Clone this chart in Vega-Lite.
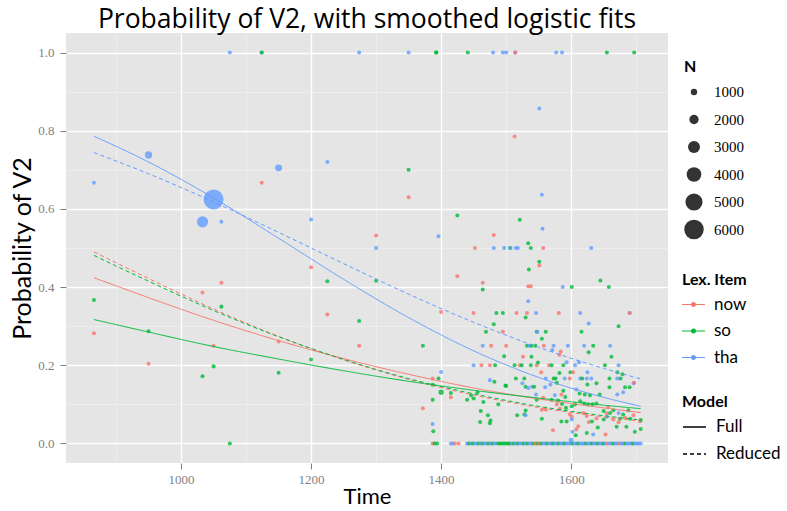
{
"$schema":"https://vega.github.io/schema/vega-lite/v6.json",
"width":602,"height":430,"autosize":"none",
"padding":{"left":66,"top":33,"right":119,"bottom":48},
"background":"white",
"config":{"view":{"fill":"#E5E5E5","stroke":null}},
"title":{"text":"Probability of V2, with smoothed logistic fits","font":"Open Sans","fontSize":26.5,"fontWeight":"normal","color":"black","anchor":"middle","offset":0},
"datasets":{
"pts":[
{"Time":866,"Prob":0.667,"Item":"tha","N":40},{"Time":866,"Prob":0.367,"Item":"so","N":40},{"Time":866,"Prob":0.282,"Item":"now","N":40},
{"Time":950,"Prob":0.738,"Item":"tha","N":1300},{"Time":950,"Prob":0.287,"Item":"so","N":40},{"Time":950,"Prob":0.204,"Item":"now","N":40},
{"Time":1033,"Prob":0.567,"Item":"tha","N":2700},{"Time":1033,"Prob":0.386,"Item":"now","N":40},{"Time":1033,"Prob":0.172,"Item":"so","N":40},
{"Time":1050,"Prob":0.624,"Item":"tha","N":6200},{"Time":1050,"Prob":0.25,"Item":"now","N":40},{"Time":1050,"Prob":0.197,"Item":"so","N":150},
{"Time":1062,"Prob":0.567,"Item":"tha","N":40},{"Time":1062,"Prob":0.411,"Item":"now","N":40},{"Time":1062,"Prob":0.35,"Item":"so","N":40},
{"Time":1075,"Prob":1.0,"Item":"tha","N":40},{"Time":1075,"Prob":0.0,"Item":"so","N":40},
{"Time":1124,"Prob":1.0,"Item":"tha","N":40},{"Time":1124,"Prob":1.0,"Item":"so","N":40},{"Time":1124,"Prob":0.667,"Item":"now","N":40},
{"Time":1150,"Prob":0.705,"Item":"tha","N":1200},{"Time":1150,"Prob":0.261,"Item":"now","N":40},{"Time":1150,"Prob":0.181,"Item":"so","N":40},
{"Time":1200,"Prob":0.573,"Item":"tha","N":40},{"Time":1200,"Prob":0.451,"Item":"now","N":40},{"Time":1200,"Prob":0.215,"Item":"so","N":40},
{"Time":1225,"Prob":0.72,"Item":"tha","N":40},{"Time":1225,"Prob":0.415,"Item":"so","N":40},{"Time":1225,"Prob":0.33,"Item":"now","N":40},
{"Time":1274,"Prob":1.0,"Item":"tha","N":40},{"Time":1274,"Prob":0.313,"Item":"so","N":40},{"Time":1274,"Prob":0.25,"Item":"now","N":40},
{"Time":1300,"Prob":0.532,"Item":"now","N":40},{"Time":1300,"Prob":0.5,"Item":"tha","N":40},{"Time":1300,"Prob":0.416,"Item":"so","N":40},
{"Time":1350,"Prob":1.0,"Item":"tha","N":40},{"Time":1350,"Prob":0.7,"Item":"so","N":40},{"Time":1350,"Prob":0.63,"Item":"now","N":40},
{"Time":1372,"Prob":0.25,"Item":"so","N":40},{"Time":1372,"Prob":0.09,"Item":"now","N":40},
{"Time":1387,"Prob":0.166,"Item":"now","N":40},{"Time":1387,"Prob":0.15,"Item":"so","N":40},{"Time":1387,"Prob":0.112,"Item":"so","N":40},{"Time":1387,"Prob":0.05,"Item":"tha","N":40},{"Time":1388,"Prob":0.031,"Item":"so","N":40},
{"Time":1392,"Prob":1.0,"Item":"so","N":40},{"Time":1393,"Prob":1.0,"Item":"so","N":40},
{"Time":1396,"Prob":0.53,"Item":"tha","N":40},{"Time":1396,"Prob":0.166,"Item":"so","N":40},
{"Time":1400,"Prob":0.336,"Item":"now","N":40},{"Time":1400,"Prob":0.183,"Item":"tha","N":40},{"Time":1400,"Prob":0.131,"Item":"so","N":600},
{"Time":1415,"Prob":0.129,"Item":"so","N":40},{"Time":1415,"Prob":0.118,"Item":"now","N":40},
{"Time":1425,"Prob":0.583,"Item":"so","N":40},{"Time":1425,"Prob":0.428,"Item":"now","N":40},
{"Time":1440,"Prob":0.112,"Item":"so","N":40},{"Time":1441,"Prob":1.0,"Item":"so","N":40},{"Time":1446,"Prob":0.123,"Item":"so","N":40},
{"Time":1450,"Prob":0.115,"Item":"so","N":40},{"Time":1450,"Prob":0.334,"Item":"now","N":40},{"Time":1450,"Prob":0.2,"Item":"tha","N":40},
{"Time":1452,"Prob":0.5,"Item":"now","N":40},{"Time":1456,"Prob":0.131,"Item":"so","N":40},{"Time":1460,"Prob":0.055,"Item":"so","N":40},
{"Time":1461,"Prob":0.083,"Item":"so","N":40},{"Time":1462,"Prob":0.2,"Item":"now","N":40},{"Time":1464,"Prob":0.411,"Item":"now","N":40},
{"Time":1464,"Prob":0.394,"Item":"so","N":40},{"Time":1464,"Prob":0.25,"Item":"tha","N":40},{"Time":1465,"Prob":0.106,"Item":"so","N":40},
{"Time":1469,"Prob":0.286,"Item":"so","N":40},{"Time":1472,"Prob":0.072,"Item":"so","N":40},{"Time":1475,"Prob":0.2,"Item":"now","N":40},
{"Time":1475,"Prob":0.162,"Item":"tha","N":40},{"Time":1475,"Prob":0.052,"Item":"so","N":40},{"Time":1476,"Prob":0.059,"Item":"so","N":40},
{"Time":1477,"Prob":0.25,"Item":"now","N":40},{"Time":1480,"Prob":1.0,"Item":"tha","N":40},{"Time":1481,"Prob":0.533,"Item":"now","N":40},
{"Time":1481,"Prob":0.5,"Item":"tha","N":40},{"Time":1481,"Prob":0.305,"Item":"so","N":40},{"Time":1482,"Prob":0.158,"Item":"so","N":40},
{"Time":1483,"Prob":0.2,"Item":"so","N":40},{"Time":1485,"Prob":0.334,"Item":"so","N":40},{"Time":1488,"Prob":0.1,"Item":"so","N":40},
{"Time":1495,"Prob":1.0,"Item":"tha","N":40},{"Time":1495,"Prob":0.334,"Item":"so","N":40},{"Time":1495,"Prob":0.286,"Item":"now","N":40},
{"Time":1497,"Prob":0.5,"Item":"tha","N":40},{"Time":1497,"Prob":0.223,"Item":"so","N":40},{"Time":1499,"Prob":0.148,"Item":"so","N":40},
{"Time":1500,"Prob":1.0,"Item":"tha","N":40},{"Time":1500,"Prob":0.25,"Item":"now","N":40},{"Time":1500,"Prob":0.147,"Item":"so","N":40},
{"Time":1506,"Prob":0.5,"Item":"so","N":40},{"Time":1507,"Prob":0.5,"Item":"tha","N":40},{"Time":1513,"Prob":0.785,"Item":"now","N":40},
{"Time":1513,"Prob":0.2,"Item":"so","N":40},{"Time":1514,"Prob":1.0,"Item":"tha","N":40},{"Time":1514,"Prob":1.0,"Item":"now","N":40},
{"Time":1515,"Prob":0.5,"Item":"tha","N":40},{"Time":1515,"Prob":0.166,"Item":"so","N":40},{"Time":1516,"Prob":0.334,"Item":"now","N":40},
{"Time":1517,"Prob":0.072,"Item":"so","N":40},{"Time":1518,"Prob":0.5,"Item":"tha","N":40},{"Time":1521,"Prob":0.572,"Item":"so","N":40},
{"Time":1521,"Prob":0.2,"Item":"now","N":40},{"Time":1524,"Prob":0.2,"Item":"so","N":40},{"Time":1525,"Prob":0.154,"Item":"tha","N":40},
{"Time":1526,"Prob":0.222,"Item":"now","N":40},{"Time":1528,"Prob":0.166,"Item":"so","N":40},{"Time":1528,"Prob":0.074,"Item":"so","N":40},
{"Time":1530,"Prob":0.322,"Item":"so","N":40},{"Time":1530,"Prob":0.145,"Item":"so","N":40},{"Time":1530,"Prob":0.084,"Item":"so","N":40},
{"Time":1530,"Prob":0.072,"Item":"tha","N":40},
{"Time":1532,"Prob":0.334,"Item":"now","N":40},{"Time":1532,"Prob":0.25,"Item":"so","N":40},{"Time":1534,"Prob":0.512,"Item":"so","N":40},
{"Time":1534,"Prob":0.402,"Item":"now","N":40},{"Time":1534,"Prob":0.364,"Item":"tha","N":40},{"Time":1534,"Prob":0.142,"Item":"tha","N":40},
{"Time":1535,"Prob":0.445,"Item":"so","N":40},{"Time":1536,"Prob":0.25,"Item":"tha","N":40},{"Time":1538,"Prob":0.5,"Item":"so","N":40},
{"Time":1538,"Prob":0.402,"Item":"now","N":40},{"Time":1538,"Prob":0.2,"Item":"so","N":40},{"Time":1539,"Prob":0.25,"Item":"so","N":40},
{"Time":1539,"Prob":0.222,"Item":"so","N":40},{"Time":1540,"Prob":0.145,"Item":"tha","N":40},{"Time":1543,"Prob":0.145,"Item":"so","N":40},
{"Time":1545,"Prob":0.25,"Item":"so","N":40},{"Time":1546,"Prob":0.334,"Item":"tha","N":40},{"Time":1546,"Prob":0.125,"Item":"tha","N":40},
{"Time":1547,"Prob":0.286,"Item":"so","N":40},{"Time":1548,"Prob":0.286,"Item":"tha","N":40},{"Time":1547,"Prob":0.2,"Item":"now","N":40},
{"Time":1547,"Prob":0.112,"Item":"so","N":40},{"Time":1549,"Prob":0.207,"Item":"so","N":40},{"Time":1551,"Prob":0.857,"Item":"tha","N":40},
{"Time":1551,"Prob":0.465,"Item":"so","N":40},{"Time":1551,"Prob":0.455,"Item":"now","N":40},{"Time":1554,"Prob":0.182,"Item":"now","N":40},
{"Time":1555,"Prob":0.636,"Item":"tha","N":40},{"Time":1555,"Prob":0.268,"Item":"so","N":40},{"Time":1555,"Prob":0.063,"Item":"so","N":40},
{"Time":1555,"Prob":0.086,"Item":"now","N":40},{"Time":1556,"Prob":0.549,"Item":"tha","N":40},{"Time":1557,"Prob":0.5,"Item":"now","N":40},
{"Time":1557,"Prob":0.117,"Item":"now","N":40},{"Time":1558,"Prob":0.25,"Item":"now","N":40},{"Time":1560,"Prob":0.144,"Item":"tha","N":40},
{"Time":1561,"Prob":0.286,"Item":"so","N":40},{"Time":1561,"Prob":0.166,"Item":"tha","N":40},{"Time":1561,"Prob":0.086,"Item":"now","N":40},
{"Time":1566,"Prob":0.2,"Item":"now","N":40},{"Time":1568,"Prob":0.151,"Item":"tha","N":40},{"Time":1570,"Prob":0.2,"Item":"so","N":40},
{"Time":1570,"Prob":0.112,"Item":"so","N":40},{"Time":1571,"Prob":0.239,"Item":"tha","N":40},{"Time":1572,"Prob":0.034,"Item":"now","N":40},
{"Time":1573,"Prob":0.25,"Item":"tha","N":40},{"Time":1573,"Prob":0.166,"Item":"so","N":40},{"Time":1575,"Prob":0.123,"Item":"tha","N":40},
{"Time":1576,"Prob":0.166,"Item":"so","N":40},{"Time":1577,"Prob":1.0,"Item":"tha","N":40},{"Time":1578,"Prob":0.155,"Item":"so","N":40},
{"Time":1578,"Prob":0.1,"Item":"now","N":40},{"Time":1580,"Prob":0.11,"Item":"so","N":40},{"Time":1581,"Prob":0.334,"Item":"now","N":40},
{"Time":1582,"Prob":0.227,"Item":"now","N":40},{"Time":1582,"Prob":0.18,"Item":"so","N":40},{"Time":1583,"Prob":0.089,"Item":"now","N":40},
{"Time":1584,"Prob":0.235,"Item":"now","N":40},{"Time":1585,"Prob":0.125,"Item":"now","N":40},{"Time":1585,"Prob":0.056,"Item":"so","N":40},
{"Time":1586,"Prob":1.0,"Item":"tha","N":40},{"Time":1586,"Prob":0.101,"Item":"so","N":40},{"Time":1587,"Prob":0.4,"Item":"tha","N":40},
{"Time":1588,"Prob":0.2,"Item":"so","N":40},{"Time":1588,"Prob":0.135,"Item":"so","N":40},{"Time":1590,"Prob":0.166,"Item":"tha","N":40},
{"Time":1591,"Prob":0.119,"Item":"so","N":40},{"Time":1592,"Prob":0.091,"Item":"so","N":40},{"Time":1593,"Prob":0.208,"Item":"tha","N":40},
{"Time":1593,"Prob":0.056,"Item":"so","N":40},{"Time":1595,"Prob":0.25,"Item":"tha","N":40},{"Time":1598,"Prob":0.166,"Item":"now","N":40},
{"Time":1598,"Prob":0.074,"Item":"now","N":40},{"Time":1599,"Prob":0.182,"Item":"so","N":40},{"Time":1601,"Prob":0.4,"Item":"so","N":40},
{"Time":1601,"Prob":0.095,"Item":"so","N":40},{"Time":1601,"Prob":0.068,"Item":"now","N":40},{"Time":1601,"Prob":0.061,"Item":"tha","N":40},
{"Time":1602,"Prob":0.03,"Item":"tha","N":40},{"Time":1603,"Prob":0.182,"Item":"now","N":40},{"Time":1606,"Prob":0.2,"Item":"tha","N":40},
{"Time":1606,"Prob":0.1,"Item":"so","N":40},{"Time":1607,"Prob":0.021,"Item":"so","N":40},{"Time":1608,"Prob":0.036,"Item":"now","N":40},
{"Time":1608,"Prob":0.138,"Item":"tha","N":40},{"Time":1611,"Prob":0.044,"Item":"now","N":40},{"Time":1612,"Prob":0.208,"Item":"tha","N":40},
{"Time":1613,"Prob":0.128,"Item":"so","N":40},{"Time":1614,"Prob":0.334,"Item":"tha","N":40},{"Time":1614,"Prob":0.166,"Item":"tha","N":40},
{"Time":1614,"Prob":0.108,"Item":"so","N":40},{"Time":1616,"Prob":0.286,"Item":"so","N":40},{"Time":1617,"Prob":0.166,"Item":"so","N":40},
{"Time":1619,"Prob":0.078,"Item":"now","N":40},{"Time":1620,"Prob":0.25,"Item":"tha","N":40},{"Time":1620,"Prob":0.102,"Item":"so","N":40},
{"Time":1621,"Prob":0.125,"Item":"so","N":40},{"Time":1624,"Prob":0.166,"Item":"tha","N":40},{"Time":1624,"Prob":0.07,"Item":"now","N":40},
{"Time":1624,"Prob":0.027,"Item":"so","N":40},{"Time":1625,"Prob":0.182,"Item":"tha","N":40},{"Time":1625,"Prob":0.151,"Item":"so","N":40},
{"Time":1626,"Prob":0.1,"Item":"so","N":40},{"Time":1627,"Prob":0.307,"Item":"tha","N":40},{"Time":1627,"Prob":0.233,"Item":"so","N":40},
{"Time":1627,"Prob":0.055,"Item":"now","N":40},{"Time":1629,"Prob":0.123,"Item":"so","N":40},{"Time":1631,"Prob":0.5,"Item":"tha","N":40},
{"Time":1631,"Prob":0.166,"Item":"tha","N":40},{"Time":1632,"Prob":0.056,"Item":"so","N":40},{"Time":1633,"Prob":0.1,"Item":"so","N":40},
{"Time":1634,"Prob":0.25,"Item":"so","N":40},{"Time":1634,"Prob":0.023,"Item":"tha","N":40},{"Time":1639,"Prob":0.154,"Item":"so","N":40},
{"Time":1639,"Prob":0.102,"Item":"so","N":40},{"Time":1639,"Prob":0.064,"Item":"now","N":40},{"Time":1641,"Prob":0.041,"Item":"so","N":40},
{"Time":1644,"Prob":0.125,"Item":"so","N":40},{"Time":1645,"Prob":0.417,"Item":"so","N":40},{"Time":1650,"Prob":0.083,"Item":"so","N":40},
{"Time":1650,"Prob":0.061,"Item":"so","N":40},{"Time":1652,"Prob":0.2,"Item":"so","N":40},{"Time":1653,"Prob":0.023,"Item":"now","N":40},
{"Time":1655,"Prob":1.0,"Item":"so","N":40},{"Time":1655,"Prob":0.077,"Item":"now","N":40},{"Time":1655,"Prob":0.068,"Item":"tha","N":40},
{"Time":1657,"Prob":0.094,"Item":"now","N":40},{"Time":1658,"Prob":0.4,"Item":"so","N":40},{"Time":1659,"Prob":0.166,"Item":"so","N":40},
{"Time":1659,"Prob":0.144,"Item":"so","N":40},{"Time":1660,"Prob":0.25,"Item":"tha","N":40},{"Time":1660,"Prob":0.078,"Item":"so","N":40},
{"Time":1662,"Prob":0.222,"Item":"so","N":40},{"Time":1665,"Prob":0.085,"Item":"so","N":40},{"Time":1665,"Prob":0.061,"Item":"now","N":40},
{"Time":1670,"Prob":0.043,"Item":"so","N":40},{"Time":1671,"Prob":0.182,"Item":"so","N":40},{"Time":1671,"Prob":0.166,"Item":"tha","N":40},
{"Time":1671,"Prob":0.125,"Item":"tha","N":40},{"Time":1673,"Prob":0.3,"Item":"so","N":40},{"Time":1673,"Prob":0.2,"Item":"tha","N":40},
{"Time":1673,"Prob":0.078,"Item":"tha","N":40},{"Time":1673,"Prob":0.054,"Item":"now","N":40},{"Time":1675,"Prob":0.063,"Item":"so","N":40},
{"Time":1676,"Prob":0.166,"Item":"so","N":40},{"Time":1679,"Prob":0.177,"Item":"so","N":40},{"Time":1680,"Prob":0.131,"Item":"tha","N":40},
{"Time":1680,"Prob":0.074,"Item":"so","N":40},{"Time":1683,"Prob":0.144,"Item":"so","N":40},{"Time":1683,"Prob":0.066,"Item":"now","N":40},
{"Time":1685,"Prob":0.043,"Item":"so","N":40},{"Time":1688,"Prob":0.085,"Item":"so","N":40},{"Time":1690,"Prob":0.334,"Item":"tha","N":40},
{"Time":1690,"Prob":0.334,"Item":"now","N":40},{"Time":1690,"Prob":0.144,"Item":"so","N":40},{"Time":1691,"Prob":0.063,"Item":"so","N":40},
{"Time":1696,"Prob":0.154,"Item":"tha","N":40},{"Time":1696,"Prob":0.072,"Item":"now","N":40},{"Time":1697,"Prob":1.0,"Item":"so","N":40},
{"Time":1697,"Prob":0.155,"Item":"now","N":40},{"Time":1698,"Prob":0.03,"Item":"so","N":40},{"Time":1706,"Prob":0.057,"Item":"now","N":40},
{"Time":1707,"Prob":0.06,"Item":"so","N":40},{"Time":1707,"Prob":0.037,"Item":"so","N":40},
{"Time":1387,"Prob":0,"Item":"now","N":40},{"Time":1390,"Prob":0,"Item":"so","N":40},{"Time":1394,"Prob":0,"Item":"so","N":40},
{"Time":1415,"Prob":0,"Item":"tha","N":40},{"Time":1418,"Prob":0,"Item":"tha","N":40},{"Time":1421,"Prob":0,"Item":"now","N":40},{"Time":1427,"Prob":0,"Item":"now","N":40},
{"Time":1440,"Prob":0,"Item":"tha","N":40},{"Time":1443,"Prob":0,"Item":"so","N":40},{"Time":1446,"Prob":0,"Item":"tha","N":40},{"Time":1449,"Prob":0,"Item":"so","N":40},
{"Time":1452,"Prob":0,"Item":"tha","N":40},{"Time":1455,"Prob":0,"Item":"tha","N":40},{"Time":1458,"Prob":0,"Item":"so","N":40},{"Time":1461,"Prob":0,"Item":"tha","N":40},
{"Time":1464,"Prob":0,"Item":"so","N":40},{"Time":1467,"Prob":0,"Item":"tha","N":40},{"Time":1470,"Prob":0,"Item":"tha","N":40},{"Time":1473,"Prob":0,"Item":"so","N":40},
{"Time":1476,"Prob":0,"Item":"tha","N":40},{"Time":1479,"Prob":0,"Item":"so","N":40},{"Time":1482,"Prob":0,"Item":"tha","N":40},{"Time":1485,"Prob":0,"Item":"tha","N":40},
{"Time":1488,"Prob":0,"Item":"so","N":40},{"Time":1491,"Prob":0,"Item":"so","N":40},{"Time":1494,"Prob":0,"Item":"so","N":40},{"Time":1497,"Prob":0,"Item":"so","N":40},
{"Time":1500,"Prob":0,"Item":"so","N":40},{"Time":1503,"Prob":0,"Item":"so","N":40},{"Time":1506,"Prob":0,"Item":"so","N":40},{"Time":1509,"Prob":0,"Item":"tha","N":40},
{"Time":1512,"Prob":0,"Item":"so","N":40},{"Time":1515,"Prob":0,"Item":"tha","N":40},{"Time":1518,"Prob":0,"Item":"so","N":40},{"Time":1521,"Prob":0,"Item":"tha","N":40},
{"Time":1524,"Prob":0,"Item":"tha","N":40},{"Time":1527,"Prob":0,"Item":"so","N":40},{"Time":1530,"Prob":0,"Item":"tha","N":40},{"Time":1533,"Prob":0,"Item":"so","N":40},
{"Time":1536,"Prob":0,"Item":"tha","N":40},{"Time":1539,"Prob":0,"Item":"tha","N":40},{"Time":1542,"Prob":0,"Item":"so","N":40},{"Time":1545,"Prob":0,"Item":"now","N":40},
{"Time":1548,"Prob":0,"Item":"so","N":40},{"Time":1551,"Prob":0,"Item":"now","N":40},{"Time":1554,"Prob":0,"Item":"so","N":40},{"Time":1557,"Prob":0,"Item":"tha","N":40},
{"Time":1560,"Prob":0,"Item":"tha","N":40},{"Time":1563,"Prob":0,"Item":"so","N":40},{"Time":1566,"Prob":0,"Item":"tha","N":40},{"Time":1569,"Prob":0,"Item":"tha","N":40},
{"Time":1572,"Prob":0,"Item":"so","N":40},{"Time":1575,"Prob":0,"Item":"tha","N":40},{"Time":1578,"Prob":0,"Item":"tha","N":40},{"Time":1581,"Prob":0,"Item":"so","N":40},
{"Time":1584,"Prob":0,"Item":"tha","N":40},{"Time":1587,"Prob":0,"Item":"tha","N":40},{"Time":1590,"Prob":0,"Item":"so","N":40},{"Time":1593,"Prob":0,"Item":"tha","N":40},
{"Time":1596,"Prob":0,"Item":"tha","N":40},{"Time":1599,"Prob":0,"Item":"tha","N":40},{"Time":1600,"Prob":0.008,"Item":"tha","N":500},{"Time":1602,"Prob":0,"Item":"so","N":40},
{"Time":1605,"Prob":0,"Item":"tha","N":40},{"Time":1608,"Prob":0,"Item":"tha","N":40},{"Time":1611,"Prob":0,"Item":"so","N":40},{"Time":1614,"Prob":0,"Item":"tha","N":40},
{"Time":1617,"Prob":0,"Item":"tha","N":40},{"Time":1620,"Prob":0,"Item":"tha","N":40},{"Time":1623,"Prob":0,"Item":"so","N":40},{"Time":1626,"Prob":0,"Item":"tha","N":40},
{"Time":1629,"Prob":0,"Item":"tha","N":40},{"Time":1632,"Prob":0,"Item":"so","N":40},{"Time":1635,"Prob":0,"Item":"tha","N":40},{"Time":1638,"Prob":0,"Item":"tha","N":40},
{"Time":1641,"Prob":0,"Item":"so","N":40},{"Time":1644,"Prob":0,"Item":"tha","N":40},{"Time":1647,"Prob":0,"Item":"tha","N":40},{"Time":1650,"Prob":0,"Item":"so","N":40},
{"Time":1653,"Prob":0,"Item":"tha","N":40},{"Time":1656,"Prob":0,"Item":"now","N":40},{"Time":1659,"Prob":0,"Item":"tha","N":40},{"Time":1662,"Prob":0,"Item":"tha","N":40},
{"Time":1665,"Prob":0,"Item":"so","N":40},{"Time":1668,"Prob":0,"Item":"tha","N":40},{"Time":1671,"Prob":0,"Item":"tha","N":40},{"Time":1674,"Prob":0,"Item":"now","N":40},
{"Time":1677,"Prob":0,"Item":"tha","N":40},{"Time":1680,"Prob":0,"Item":"tha","N":40},{"Time":1683,"Prob":0,"Item":"so","N":40},{"Time":1686,"Prob":0,"Item":"tha","N":40},
{"Time":1689,"Prob":0,"Item":"tha","N":40},{"Time":1692,"Prob":0,"Item":"tha","N":40},{"Time":1695,"Prob":0,"Item":"so","N":40},{"Time":1698,"Prob":0,"Item":"tha","N":40},
{"Time":1701,"Prob":0,"Item":"tha","N":40},{"Time":1704,"Prob":0,"Item":"tha","N":40},{"Time":1707,"Prob":0,"Item":"tha","N":40}
],
"fits":[
{"Time":866,"Fit":0.786,"Item":"tha","Model":"Full"},{"Time":950,"Fit":0.72,"Item":"tha","Model":"Full"},{"Time":1050,"Fit":0.628,"Item":"tha","Model":"Full"},{"Time":1150,"Fit":0.525,"Item":"tha","Model":"Full"},{"Time":1250,"Fit":0.42,"Item":"tha","Model":"Full"},{"Time":1350,"Fit":0.322,"Item":"tha","Model":"Full"},{"Time":1450,"Fit":0.237,"Item":"tha","Model":"Full"},{"Time":1550,"Fit":0.169,"Item":"tha","Model":"Full"},{"Time":1650,"Fit":0.118,"Item":"tha","Model":"Full"},{"Time":1707,"Fit":0.095,"Item":"tha","Model":"Full"},
{"Time":866,"Fit":0.744,"Item":"tha","Model":"Reduced"},{"Time":950,"Fit":0.69,"Item":"tha","Model":"Reduced"},{"Time":1050,"Fit":0.618,"Item":"tha","Model":"Reduced"},{"Time":1150,"Fit":0.54,"Item":"tha","Model":"Reduced"},{"Time":1250,"Fit":0.46,"Item":"tha","Model":"Reduced"},{"Time":1350,"Fit":0.382,"Item":"tha","Model":"Reduced"},{"Time":1450,"Fit":0.31,"Item":"tha","Model":"Reduced"},{"Time":1550,"Fit":0.246,"Item":"tha","Model":"Reduced"},{"Time":1650,"Fit":0.192,"Item":"tha","Model":"Reduced"},{"Time":1707,"Fit":0.165,"Item":"tha","Model":"Reduced"},
{"Time":866,"Fit":0.424,"Item":"now","Model":"Full"},{"Time":950,"Fit":0.373,"Item":"now","Model":"Full"},{"Time":1050,"Fit":0.315,"Item":"now","Model":"Full"},{"Time":1150,"Fit":0.263,"Item":"now","Model":"Full"},{"Time":1250,"Fit":0.217,"Item":"now","Model":"Full"},{"Time":1350,"Fit":0.177,"Item":"now","Model":"Full"},{"Time":1450,"Fit":0.142,"Item":"now","Model":"Full"},{"Time":1550,"Fit":0.114,"Item":"now","Model":"Full"},{"Time":1650,"Fit":0.091,"Item":"now","Model":"Full"},{"Time":1707,"Fit":0.079,"Item":"now","Model":"Full"},
{"Time":866,"Fit":0.49,"Item":"now","Model":"Reduced"},{"Time":950,"Fit":0.422,"Item":"now","Model":"Reduced"},{"Time":1050,"Fit":0.344,"Item":"now","Model":"Reduced"},{"Time":1150,"Fit":0.274,"Item":"now","Model":"Reduced"},{"Time":1250,"Fit":0.214,"Item":"now","Model":"Reduced"},{"Time":1350,"Fit":0.164,"Item":"now","Model":"Reduced"},{"Time":1450,"Fit":0.124,"Item":"now","Model":"Reduced"},{"Time":1550,"Fit":0.092,"Item":"now","Model":"Reduced"},{"Time":1650,"Fit":0.068,"Item":"now","Model":"Reduced"},{"Time":1707,"Fit":0.057,"Item":"now","Model":"Reduced"},
{"Time":866,"Fit":0.317,"Item":"so","Model":"Full"},{"Time":950,"Fit":0.285,"Item":"so","Model":"Full"},{"Time":1050,"Fit":0.248,"Item":"so","Model":"Full"},{"Time":1150,"Fit":0.216,"Item":"so","Model":"Full"},{"Time":1250,"Fit":0.186,"Item":"so","Model":"Full"},{"Time":1350,"Fit":0.159,"Item":"so","Model":"Full"},{"Time":1450,"Fit":0.136,"Item":"so","Model":"Full"},{"Time":1550,"Fit":0.116,"Item":"so","Model":"Full"},{"Time":1650,"Fit":0.098,"Item":"so","Model":"Full"},{"Time":1707,"Fit":0.089,"Item":"so","Model":"Full"},
{"Time":866,"Fit":0.481,"Item":"so","Model":"Reduced"},{"Time":950,"Fit":0.415,"Item":"so","Model":"Reduced"},{"Time":1050,"Fit":0.34,"Item":"so","Model":"Reduced"},{"Time":1150,"Fit":0.273,"Item":"so","Model":"Reduced"},{"Time":1250,"Fit":0.215,"Item":"so","Model":"Reduced"},{"Time":1350,"Fit":0.166,"Item":"so","Model":"Reduced"},{"Time":1450,"Fit":0.127,"Item":"so","Model":"Reduced"},{"Time":1550,"Fit":0.095,"Item":"so","Model":"Reduced"},{"Time":1650,"Fit":0.071,"Item":"so","Model":"Reduced"},{"Time":1707,"Fit":0.06,"Item":"so","Model":"Reduced"}
]},
"resolve":{"axis":{"x":"independent","y":"independent"}},
"layer":[
{"data":{"name":"pts"},
 "mark":{"type":"circle","opacity":0.8},
 "encoding":{
  "x":{"field":"Time","type":"quantitative","scale":{"domain":[823,1749],"nice":false,"zero":false},
       "axis":{"orient":"bottom","values":[900,1100,1300,1500,1700],"grid":true,"gridColor":"#F2F2F2","gridWidth":0.7,"labels":false,"ticks":false,"domain":false,"title":null}},
  "y":{"field":"Prob","type":"quantitative","scale":{"domain":[-0.05,1.05],"nice":false,"zero":false},
       "axis":{"orient":"left","values":[0.1,0.3,0.5,0.7,0.9],"grid":true,"gridColor":"#F2F2F2","gridWidth":0.7,"labels":false,"ticks":false,"domain":false,"title":null}},
  "color":{"field":"Item","type":"nominal","scale":{"domain":["now","so","tha"],"range":["#F8766D","#00BA38","#619CFF"]},
       "legend":{"title":"Lex. Item","orient":"none","legendX":616,"legendY":238.5,"symbolType":"M-1,-0.045L1,-0.045L1,0.045L-1,0.045Z M-0.22,0A0.22,0.22 0 1,1 0.22,0A0.22,0.22 0 1,1 -0.22,0Z","symbolSize":529,"symbolStrokeWidth":0,"symbolOpacity":1,"labelFont":"Lato","labelFontSize":17,"labelColor":"black","labelOffset":9,"titleFont":"Lato","titleFontSize":16,"titleFontWeight":"bold","titleColor":"black","titlePadding":6,"clipHeight":22,"rowPadding":4.5}},
  "size":{"field":"N","type":"quantitative","scale":{"type":"pow","exponent":1.5,"domain":[0,6000],"range":[16,380]},
       "legend":{"title":"N","orient":"none","legendX":618,"legendY":26,"values":[1000,2000,3000,4000,5000,6000],"format":"d","symbolFillColor":"#333333","symbolStrokeWidth":0,"symbolOpacity":1,"labelFont":"Liberation Serif","labelFontSize":15,"labelColor":"black","labelOffset":10,"titleFont":"Lato","titleFontSize":16,"titleFontWeight":"bold","titleColor":"black","titlePadding":6,"clipHeight":22,"rowPadding":5.5}}
 }},
{"data":{"name":"fits"},
 "mark":{"type":"line","strokeWidth":1,"interpolate":"monotone"},
 "encoding":{
  "x":{"field":"Time","type":"quantitative",
       "axis":{"orient":"bottom","title":"Time","values":[1000,1200,1400,1600],"format":"d","grid":true,"gridColor":"white","gridWidth":1.3,"domain":false,"tickColor":"#7F7F7F","tickSize":6,"labelFont":"Liberation Serif","labelFontSize":13,"labelColor":"#7F7F7F","labelPadding":4,"titleFont":"Lato","titleFontSize":22,"titleFontWeight":"normal","titleColor":"black","titlePadding":0}},
  "y":{"field":"Fit","type":"quantitative",
       "axis":{"orient":"left","title":"Probability of V2","values":[0,0.2,0.4,0.6,0.8,1.0],"format":".1f","grid":true,"gridColor":"white","gridWidth":1.3,"domain":false,"tickColor":"#7F7F7F","tickSize":6,"labelFont":"Liberation Serif","labelFontSize":13,"labelColor":"#7F7F7F","labelPadding":6,"titleFont":"Lato","titleFontSize":25,"titleFontWeight":"normal","titleColor":"black","titlePadding":2}},
  "color":{"field":"Item","type":"nominal",
       "legend":{"title":"Lex. Item","orient":"none","legendX":616,"legendY":238.5,"symbolType":"M-1,-0.045L1,-0.045L1,0.045L-1,0.045Z M-0.22,0A0.22,0.22 0 1,1 0.22,0A0.22,0.22 0 1,1 -0.22,0Z","symbolSize":529,"symbolStrokeWidth":0,"symbolOpacity":1,"labelFont":"Lato","labelFontSize":17,"labelColor":"black","labelOffset":9,"titleFont":"Lato","titleFontSize":16,"titleFontWeight":"bold","titleColor":"black","titlePadding":6,"clipHeight":22,"rowPadding":4.5}},
  "strokeDash":{"field":"Model","type":"nominal","scale":{"domain":["Full","Reduced"],"range":[[1,0],[4,3]]},
       "legend":{"title":"Model","orient":"none","legendX":616,"legendY":361,"symbolType":"stroke","symbolSize":529,"symbolStrokeColor":"black","symbolStrokeWidth":1.3,"labelFont":"Lato","labelFontSize":17,"labelColor":"black","labelOffset":9,"titleFont":"Lato","titleFontSize":16,"titleFontWeight":"bold","titleColor":"black","titlePadding":6,"clipHeight":22,"rowPadding":5}}
 }}
]
}
